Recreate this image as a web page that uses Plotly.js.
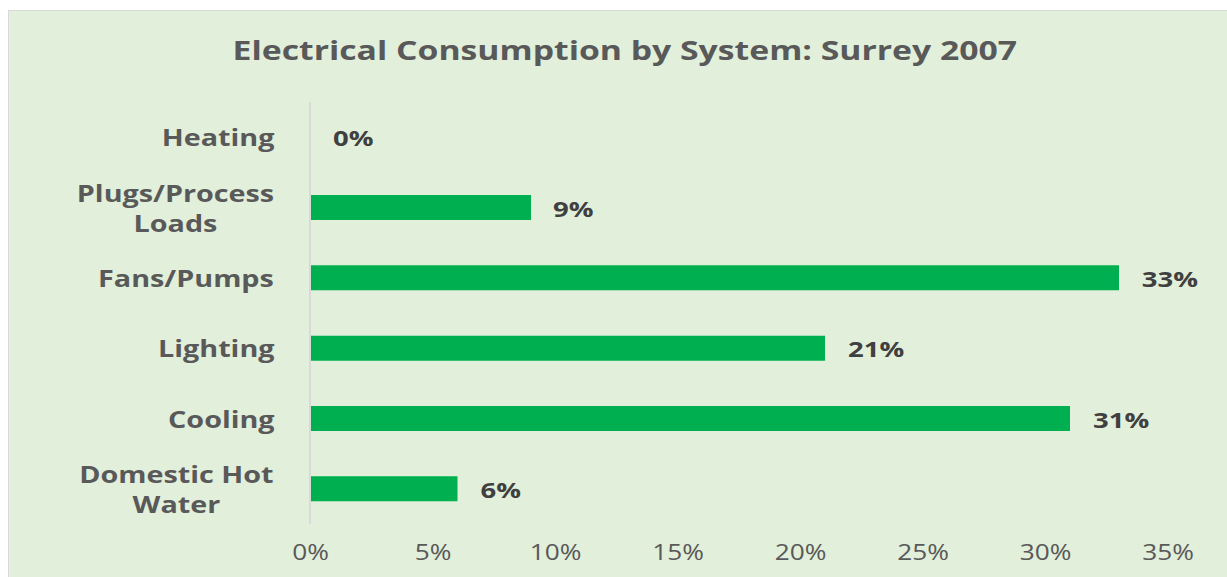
<!DOCTYPE html>
<html>
<head>
<meta charset="utf-8">
<script src="https://cdn.plot.ly/plotly-3.0.1.min.js"></script>
<style>
  html, body { margin: 0; padding: 0; background: #ffffff; overflow: hidden; }
  #chart { position: absolute; left: 8px; top: 10px; width: 980px; height: 570px;
           border: 1px solid #D9D9D9; box-sizing: border-box; transform-origin: 0 0; }
</style>
</head>
<body>
<div id="chart"></div>
<script>
const categories = ['Heating', 'Plugs/Process Loads', 'Fans/Pumps', 'Lighting', 'Cooling', 'Domestic Hot Water'];
const categoryLabels = ['Heating', 'Plugs/Process<br>Loads', 'Fans/Pumps', 'Lighting', 'Cooling', 'Domestic Hot<br>Water'];
const shares = [0.00, 0.09, 0.33, 0.21, 0.31, 0.06];
const xTickValues = [0, 0.05, 0.10, 0.15, 0.20, 0.25, 0.30, 0.35];
const chartTitle = 'Electrical Consumption by System: Surrey 2007';

const FONT = '"Open Sans", sans-serif';
const STRETCH = 1.25; // the reference is drawn horizontally widened

const trace = {
  type: 'bar',
  orientation: 'h',
  y: categories,
  x: shares,
  marker: { color: '#00B050', line: { width: 0 } },
  hoverinfo: 'skip',
  cliponaxis: false
};

const valueLabels = categories.map((c, i) => ({
  x: shares[i], y: c, xref: 'x', yref: 'y',
  text: '<b>' + Math.round(shares[i] * 100) + '%</b>',
  showarrow: false, xanchor: 'left', yanchor: 'middle', xshift: 16,
  font: { family: FONT, size: 22, color: '#404040' }
}));

const categoryAnnotations = categories.map((c, i) => ({
  x: 0, y: c, xref: 'paper', yref: 'y',
  text: '<b>' + categoryLabels[i] + '</b>',
  showarrow: false, xanchor: 'right', yanchor: 'middle', xshift: -27,
  align: 'center',
  font: { family: FONT, size: 23, color: '#595959' }
}));

const layout = {
  width: 980, height: 570,
  paper_bgcolor: '#E2EFDA',
  plot_bgcolor: '#E2EFDA',
  margin: { l: 240.8, r: 52.8, t: 91, b: 57 },
  showlegend: false,
  bargap: 0.645,
  title: {
    text: '<b>' + chartTitle + '</b>',
    font: { family: FONT, size: 27, color: '#595959' },
    x: 0.5025, xanchor: 'center', xref: 'container',
    y: 1 - 40 / 570, yanchor: 'middle', yref: 'container'
  },
  xaxis: {
    range: [0, 0.35],
    tickvals: xTickValues,
    tickformat: '.0%',
    showgrid: false, zeroline: false, showline: false,
    ticks: '',
    ticklabelstandoff: 14,
    tickfont: { family: FONT, size: 21, color: '#595959' },
    fixedrange: true
  },
  yaxis: {
    type: 'category',
    autorange: 'reversed',
    showgrid: false, zeroline: false,
    showline: true, linecolor: '#D9D9D9', linewidth: 1.6,
    ticks: '',
    showticklabels: false,
    fixedrange: true
  },
  annotations: valueLabels.concat(categoryAnnotations)
};

Plotly.newPlot('chart', [trace], layout, { displayModeBar: false, staticPlot: true })
  .then(() => {
    document.getElementById('chart').style.transform = 'scaleX(' + STRETCH + ')';
  });
</script>
</body>
</html>
